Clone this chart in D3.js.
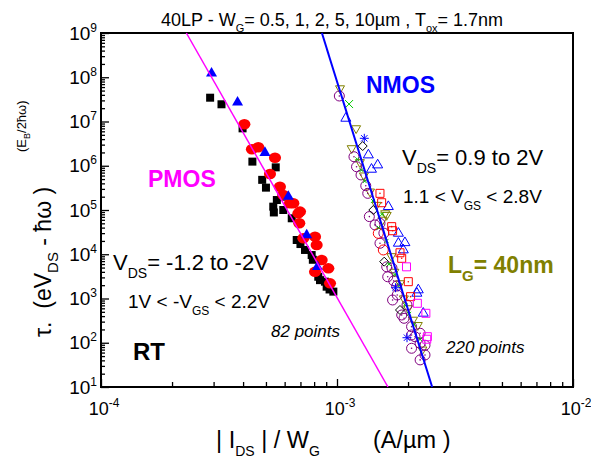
<!DOCTYPE html>
<html><head><meta charset="utf-8">
<script src="https://cdn.jsdelivr.net/npm/d3@7"></script>
<style>
body{margin:0;background:#fff}
svg{display:block}
text{font-family:"Liberation Sans",Arial,sans-serif;fill:#000}
</style>
</head><body>
<svg id="c" width="591" height="461"></svg>
<script>
// ---------- data ----------
const xTickExps = [-4, -3, -2];
const yTickExps = [1, 2, 3, 4, 5, 6, 7, 8, 9];

// fitted lines [I/W (A/um), tau]
const pmosFitLine = [[2.30e-4, 1e9], [1.644e-3, 10]];
const nmosFitLine = [[8.63e-4, 1e9], [2.53e-3, 10]];

// PMOS
const pmosBlackSquares = [
  [2.90e-4,3.45e7],[3.24e-4,2.45e7],[3.98e-4,7.0e6],[4.38e-4,1.24e6],[5.50e-4,9.2e5],
  [4.82e-4,4.8e5],[5.00e-4,3.2e5],[5.56e-4,1.68e5],[5.83e-4,2.0e5],[5.37e-4,1.19e5],
  [5.40e-4,8.8e4],[5.92e-4,1.0e5],[6.43e-4,6.5e4],[6.75e-4,2.1e4],[7.00e-4,1.7e4],
  [7.32e-4,1.25e4],[7.81e-4,9.6e3],[7.90e-4,7.5e3],[8.33e-4,3.1e3],[8.47e-4,2.6e3],
  [8.89e-4,2.4e3],[9.04e-4,1.85e3],[9.65e-4,1.43e3],[9.30e-4,1.6e3]
];
const pmosRedCircles = [
  [4.05e-4,8.65e6],[4.36e-4,2.35e6],[4.64e-4,2.61e6],[5.46e-4,1.52e6],[5.20e-4,6.5e5],
  [5.73e-4,3.36e5],[5.92e-4,2.18e5],[6.32e-4,1.42e5],[6.53e-4,1.42e5],[6.97e-4,9.2e4],
  [6.86e-4,8.4e4],[6.92e-4,5.0e4],[7.20e-4,2.29e4],[8.07e-4,2.5e4],[8.20e-4,1.62e4],
  [8.61e-4,7.4e3],[9.19e-4,4.8e3],[8.07e-4,4.0e3],[9.34e-4,2.2e3]
];
const pmosBlueTriangles = [
  [2.94e-4,1.23e8],[3.79e-4,2.72e7],[4.95e-4,1.97e6],[6.22e-4,2.0e5],[7.44e-4,2.72e4],[8.26e-4,5.2e3]
];

// NMOS
const nmosPurpleCircles = [
  [1.023e-3,3.77e7],[1.18e-3,1.6e6],[1.21e-3,9.5e5],[1.264e-3,6.2e5],[1.324e-3,3.54e5],
  [1.35e-3,2.38e5],[1.371e-3,7.1e4],[1.449e-3,4.6e4],[1.521e-3,5.0e4],[1.58e-3,3.0e4],
  [1.521e-3,1.77e4],[1.624e-3,5.2e3],[1.71e-3,4.9e3],[1.64e-3,3.1e3],[1.74e-3,2.5e3],
  [1.79e-3,1.91e3],[1.80e-3,1.2e3],[1.72e-3,925],[1.98e-3,713],[1.88e-3,424],[1.923e-3,357],
  [2.07e-3,231],[2.14e-3,137],[2.25e-3,164],[2.07e-3,150],[2.07e-3,75],[2.25e-3,97],
  [2.36e-3,88],[2.25e-3,41],[2.36e-3,53]
];
const nmosOliveTriangles = [
  [1.03e-3,5.6e7],[1.205e-3,7.0e6],[1.154e-3,2.48e6],[1.60e-3,8.4e4],[1.624e-3,7.7e4],
  [1.25e-3,1.2e6],[1.30e-3,6.0e5],[1.38e-3,2.6e5],[1.56e-3,6.0e4],[1.70e-3,9.0e3],
  [1.75e-3,4.0e3],[1.92e-3,1.0e3],[2.00e-3,600],[2.20e-3,250],[2.30e-3,70],
  [1.47e-3,1.3e5],[1.85e-3,2.2e3],[2.10e-3,330]
];
const nmosBlueTriangles = [
  [1.09e-3,1.18e7],[1.358e-3,1.75e6],[1.487e-3,1.04e6],[1.40e-3,8.3e5],[1.65e-3,1.19e5],
  [1.82e-3,2.97e4],[1.94e-3,1.82e4],[1.91e-3,1.25e4],[1.82e-3,1.77e4],[2.21e-3,1.56e3],
  [2.18e-3,1.31e3],[2.32e-3,463]
];
const nmosRedSquares = [
  [1.521e-3,2.38e5],[1.546e-3,1.46e5],[1.705e-3,4.2e4],[1.72e-3,3.4e4],[1.849e-3,1.08e4],
  [1.88e-3,8.1e3],[2.005e-3,2.4e3],[2.05e-3,1.1e3]
];
const nmosBlackDiamonds = [[1.285e-3,2.79e6],[1.425e-3,1.0e5],[1.585e-3,6.8e3],[1.849e-3,550]];
const nmosRedOpenCircles = [[1.496e-3,2.97e4],[1.571e-3,1.25e4]];
const nmosMagentaSquares = [[1.97e-3,5.2e3],[2.19e-3,780],[2.38e-3,463],[2.415e-3,137],[2.40e-3,120]];
const nmosGreenX = [[1.125e-3,2.48e7]];
const nmosGreenSmall = [
  [1.22e-3,1.4e6],[1.31e-3,4.5e5],[1.42e-3,1.6e5],[1.50e-3,4.0e4],[1.62e-3,2.0e4],
  [1.66e-3,6.0e3],[1.84e-3,2.0e3],[1.95e-3,700],[2.12e-3,260],[2.25e-3,120],
  [1.27e-3,8.0e5],[1.55e-3,8.0e4],[1.76e-3,3.5e3],[2.02e-3,450]
];
const nmosBlueAsterisks = [[1.305e-3,4.17e6],[1.98e-3,130],[1.77e-3,1.75e3]];

// ---------- layout ----------
const L = 101, R = 573, T = 33, B = 387;
const svg = d3.select("#c");
const x = d3.scaleLog().domain([1e-4, 1e-2]).range([L, R]);
const y = d3.scaleLog().domain([10, 1e9]).range([B, T]);

function minors(lo, hi) {
  const out = [];
  for (let e = lo; e < hi; e++) for (let k = 2; k <= 9; k++) out.push(k * Math.pow(10, e));
  return out;
}

// axes (ticks inward)
const gx = svg.append("g").attr("transform", `translate(0,${B})`);
gx.call(d3.axisBottom(x).tickValues(xTickExps.map(e => Math.pow(10, e))).tickSize(-8).tickFormat(""));
const gx2 = svg.append("g").attr("transform", `translate(0,${B})`);
gx2.call(d3.axisBottom(x).tickValues(minors(-4, -2)).tickSize(-5).tickFormat(""));
const gy = svg.append("g").attr("transform", `translate(${L},0)`);
gy.call(d3.axisLeft(y).tickValues(yTickExps.map(e => Math.pow(10, e))).tickSize(-8).tickFormat(""));
const gy2 = svg.append("g").attr("transform", `translate(${L},0)`);
gy2.call(d3.axisLeft(y).tickValues(minors(1, 9)).tickSize(-4).tickFormat(""));
svg.selectAll(".domain").remove();
svg.selectAll(".tick line").attr("stroke", "#000").attr("stroke-width", 1.3);

// frame
svg.append("rect").attr("x", L).attr("y", T).attr("width", R - L).attr("height", B - T)
  .attr("fill", "none").attr("stroke", "#000").attr("stroke-width", 2);

// tick labels
yTickExps.forEach(e => {
  const t = svg.append("text").attr("x", 97).attr("y", y(Math.pow(10, e)) + 6.5)
    .attr("text-anchor", "end").attr("font-size", 19);
  t.append("tspan").text("10");
  t.append("tspan").attr("dy", -8).attr("font-size", 12).text(e);
});
xTickExps.forEach(e => {
  const t = svg.append("text").attr("x", x(Math.pow(10, e)) + 3).attr("y", 415)
    .attr("text-anchor", "middle").attr("font-size", 18);
  t.append("tspan").text("10");
  t.append("tspan").attr("dy", -8).attr("font-size", 12).text(e);
});

// ---------- markers ----------
const plot = svg.append("g");
function shape(type, s) {
  const h = s / 2;
  switch (type) {
    case "square": return `M${-h},${-h}h${s}v${s}h${-s}Z`;
    case "triUp": { const H = s * 0.866; return `M0,${-H * 2 / 3}L${h},${H / 3}L${-h},${H / 3}Z`; }
    case "triDown": { const H = s * 0.866; return `M0,${H * 2 / 3}L${h},${-H / 3}L${-h},${-H / 3}Z`; }
    case "diamond": return `M0,${-h}L${h},0L0,${h}L${-h},0Z`;
    case "x": return `M${-h},${-h}L${h},${h}M${-h},${h}L${h},${-h}`;
    case "star": { const d = h * 0.707; return `M${-d},${-d}L${d},${d}M${-d},${d}L${d},${-d}M0,${-h}L0,${h}M${-h},0L${h},0`; }
  }
}
function series(data, type, size, fill, stroke, sw, dot) {
  const g = plot.append("g");
  data.forEach(d => {
    const cx = x(d[0]), cy = y(d[1]);
    if (type === "circle") {
      g.append("ellipse").attr("cx", cx).attr("cy", cy).attr("rx", size / 2).attr("ry", size / 2)
        .attr("fill", fill).attr("stroke", stroke).attr("stroke-width", sw);
    } else if (type === "ellipse") {
      g.append("ellipse").attr("cx", cx).attr("cy", cy).attr("rx", size / 2 + 0.8).attr("ry", size / 2)
        .attr("fill", fill).attr("stroke", stroke).attr("stroke-width", sw);
    } else {
      g.append("path").attr("d", shape(type, size)).attr("transform", `translate(${cx},${cy})`)
        .attr("fill", fill).attr("stroke", stroke).attr("stroke-width", sw);
    }
    if (dot) g.append("circle").attr("cx", cx).attr("cy", cy).attr("r", 0.8).attr("fill", stroke);
  });
}

// PMOS
series(pmosBlackSquares, "square", 8, "#000", "none", 0);
series(pmosRedCircles, "ellipse", 10.5, "#ff0000", "none", 0);
series(pmosBlueTriangles, "triUp", 11, "#0000ff", "none", 0);

// NMOS
series(nmosOliveTriangles, "triDown", 9, "none", "#808000", 1);
series(nmosPurpleCircles, "circle", 10, "none", "#800080", 1, true);
series(nmosBlueTriangles, "triUp", 10, "none", "#0000ff", 1);
series(nmosRedSquares, "square", 8, "none", "#ff0000", 1, true);
series(nmosBlackDiamonds, "diamond", 9, "none", "#000", 1);
series(nmosRedOpenCircles, "circle", 10, "none", "#ff0000", 1);
series(nmosMagentaSquares, "square", 8, "none", "#ff00ff", 1);
series(nmosGreenX, "x", 8, "none", "#00cc00", 1);
series(nmosGreenSmall, "x", 4, "none", "#00cc00", 1);
series(nmosBlueAsterisks, "star", 9, "none", "#0000ff", 1);

// fit lines
const line = d3.line().x(d => x(d[0])).y(d => y(d[1]));
plot.append("path").datum(pmosFitLine).attr("d", line).attr("fill", "none").attr("stroke", "#ff00ff").attr("stroke-width", 1.5);
plot.append("path").datum(nmosFitLine).attr("d", line).attr("fill", "none").attr("stroke", "#0000ff").attr("stroke-width", 2);

// ---------- texts ----------
function rich(xp, yp, size, parts, opts = {}) {
  const t = svg.append("text").attr("x", xp).attr("y", yp).attr("font-size", size);
  if (opts.fill) t.style("fill", opts.fill);
  if (opts.weight) t.attr("font-weight", opts.weight);
  if (opts.style) t.attr("font-style", opts.style);
  if (opts.anchor) t.attr("text-anchor", opts.anchor);
  t.attr("xml:space", "preserve");
  let shift = 0;
  parts.forEach(p => {
    const ts = t.append("tspan").text(p.t);
    const target = p.dy || 0;
    if (target !== shift) { ts.attr("dy", target - shift); shift = target; }
    if (p.size) ts.attr("font-size", p.size);
  });
  return t;
}

// title
rich(161, 26, 18, [
  {t: "40LP - W"}, {t: "G", dy: 6, size: 11}, {t: "= 0.5, 1, 2, 5, 10µm , T", dy: 0},
  {t: "ox", dy: 6, size: 11}, {t: "= 1.7nm", dy: 0}
]);

// labels in plot
rich(366, 93, 23, [{t: "NMOS"}], {fill: "#0000ff", weight: "bold"});
rich(148, 187, 23, [{t: "PMOS"}], {fill: "#ff00ff", weight: "bold"});
rich(402, 165, 22, [{t: "V"}, {t: "DS", dy: 8, size: 14}, {t: "= 0.9 to 2V", dy: 0}]);
rich(403, 203, 19, [{t: "1.1 < V"}, {t: "GS", dy: 7, size: 12}, {t: " < 2.8V", dy: 0}]);
rich(448, 273, 23, [{t: "L"}, {t: "G", dy: 8, size: 15}, {t: "= 40nm", dy: 0}], {fill: "#808000", weight: "bold"});
rich(446, 353, 17, [{t: "220 points"}], {style: "italic"});
rich(271, 337, 17, [{t: "82 points"}], {style: "italic"});
rich(113, 270, 22, [{t: "V"}, {t: "DS", dy: 8, size: 14}, {t: "= -1.2 to -2V", dy: 0}]);
rich(128, 308, 19, [{t: "1V < -V"}, {t: "GS", dy: 7, size: 12}, {t: " < 2.2V", dy: 0}]);
rich(133, 360, 24, [{t: "RT"}], {weight: "bold"});

// x axis label
rich(216, 448, 23.5, [{t: "| I"}, {t: "DS", dy: 8, size: 14}, {t: " | / W", dy: 0}, {t: "G", dy: 8, size: 14}]);
rich(373, 448, 23.5, [{t: "(A/µm )"}]);

// y axis label (rotated)
const yl = svg.append("g").attr("transform", "translate(51,337) rotate(-90)");
const ylt = yl.append("text").attr("x", 0).attr("y", 0).attr("font-size", 23).attr("xml:space", "preserve");
ylt.append("tspan").text("τ.  (eV");
ylt.append("tspan").attr("dy", 7).attr("font-size", 15).text("DS");
ylt.append("tspan").attr("dy", -7).text(" - ħω )");
const ys = svg.append("g").attr("transform", "translate(26,152) rotate(-90)");
const yst = ys.append("text").attr("font-size", 13);
yst.append("tspan").text("(E");
yst.append("tspan").attr("dy", 4).attr("font-size", 9).text("B");
yst.append("tspan").attr("dy", -4).text("/2ħω)");
</script>
</body></html>
